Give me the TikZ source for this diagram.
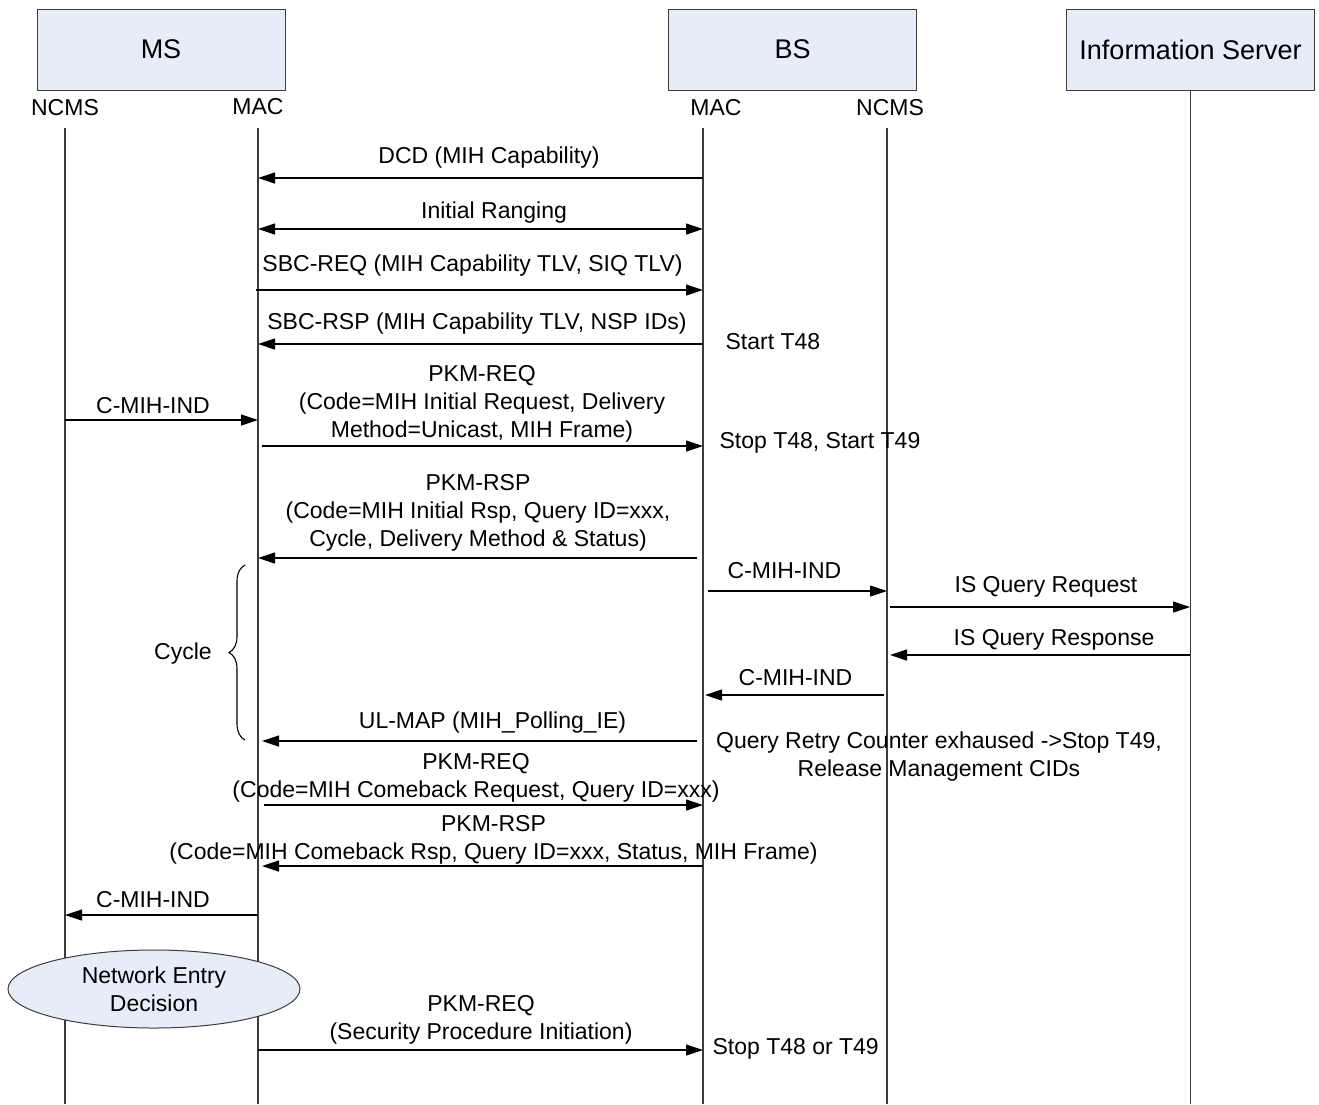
\documentclass[tikz,border=0pt]{standalone}
\usepackage{fontspec}
\setmainfont{Liberation Sans}
\usetikzlibrary{arrows.meta,shapes.geometric,decorations.pathreplacing}

\definecolor{boxfill}{RGB}{230,236,248}
\definecolor{lifegray}{RGB}{60,60,60}
\tikzset{msgtip/.tip={Triangle[length=17pt,width=11pt]}}

\begin{document}
\begin{tikzpicture}[x=1pt,y=-1pt,
  line width=1.2pt,
  entity/.style={draw=lifegray,fill=boxfill,line width=1pt,minimum width=248pt,minimum height=81pt,
    inner sep=0pt,font=\fontsize{27}{32}\selectfont},
  port/.style={inner sep=0pt,font=\fontsize{23}{28}\selectfont},
  msg/.style={inner sep=0pt,align=center,font=\fontsize{23}{28}\selectfont},
  decision/.style={ellipse,draw=lifegray,fill=boxfill,line width=1pt,minimum width=292pt,minimum height=78pt,
    inner sep=0pt,align=center,font=\fontsize{23}{28}\selectfont},
  life/.style={draw=lifegray,line width=1.3pt}]
  \useasboundingbox (0,0) rectangle (1319,1104);

  \node[entity] (ms) at (161,49.5) {MS};
  \node[entity] (bs) at (792.5,49.5) {BS};
  \node[entity] (is) at (1190.5,49.5) {Information Server};

  \node[port] (ncms1) at (65,108) {NCMS};
  \node[port] (mac1) at (258,107) {MAC};
  \node[port] (mac2) at (716,108) {MAC};
  \node[port] (ncms2) at (890,108) {NCMS};

  % lifelines
  \coordinate (l1t) at (65,128);   \coordinate (l1b) at (65,1104);
  \coordinate (l2t) at (258,128);  \coordinate (l2b) at (258,1104);
  \coordinate (l3t) at (703,128);  \coordinate (l3b) at (703,1104);
  \coordinate (l4t) at (887,128);  \coordinate (l4b) at (887,1104);
  \coordinate (l5b) at (1190.5,1104);
  \draw[life] (l1t) -- (l1b);
  \draw[life] (l2t) -- (l2b);
  \draw[life] (l3t) -- (l3b);
  \draw[life] (l4t) -- (l4b);
  \draw[life] (is.south) -- (l5b);

  % message end points
  \coordinate (m1a) at (703,178);  \coordinate (m1b) at (258,178);
  \coordinate (m2a) at (258,229);  \coordinate (m2b) at (703,229);
  \coordinate (m3a) at (256,290);  \coordinate (m3b) at (703,290);
  \coordinate (m4a) at (703,344);  \coordinate (m4b) at (258,344);
  \coordinate (m5a) at (65,420);   \coordinate (m5b) at (258,420);
  \coordinate (m6a) at (262,446);  \coordinate (m6b) at (703,446);
  \coordinate (m7a) at (697,558);  \coordinate (m7b) at (258,558);
  \coordinate (m8a) at (708,591);  \coordinate (m8b) at (887,591);
  \coordinate (m9a) at (890,607);  \coordinate (m9b) at (1190,607);
  \coordinate (m10a) at (1190,655); \coordinate (m10b) at (890,655);
  \coordinate (m11a) at (884,695); \coordinate (m11b) at (705,695);
  \coordinate (m12a) at (697,741); \coordinate (m12b) at (262,741);
  \coordinate (m13a) at (264,805); \coordinate (m13b) at (703,805);
  \coordinate (m14a) at (703,866); \coordinate (m14b) at (262,866);
  \coordinate (m15a) at (258,915); \coordinate (m15b) at (65,915);
  \coordinate (m16a) at (258,1050); \coordinate (m16b) at (703,1050);

  \path[-msgtip]
    (m1a) edge (m1b)
    (m2a) edge [msgtip-msgtip] (m2b)
    (m3a) edge (m3b)
    (m4a) edge (m4b)
    (m5a) edge (m5b)
    (m6a) edge (m6b)
    (m7a) edge (m7b)
    (m8a) edge (m8b)
    (m9a) edge (m9b)
    (m10a) edge (m10b)
    (m11a) edge (m11b)
    (m12a) edge (m12b)
    (m13a) edge (m13b)
    (m14a) edge (m14b)
    (m15a) edge (m15b)
    (m16a) edge (m16b);

  \node[msg] (dcd) at (489,158) {DCD (MIH Capability)};
  \node[msg] (rng) at (494,213) {Initial Ranging};
  \node[msg] (sbcreq) at (472.5,266) {SBC-REQ (MIH Capability TLV, SIQ TLV)};
  \node[msg] (sbcrsp) at (477,324) {SBC-RSP (MIH Capability TLV, NSP IDs)};
  \node[port,anchor=west] (t48) at (725,342) {Start T48};
  \node[msg] (ind1) at (153,406) {C-MIH-IND};
  \node[msg] (pkmreq1) at (482,404) {PKM-REQ\\(Code=MIH Initial Request, Delivery\\Method=Unicast, MIH Frame)};
  \node[port,anchor=west] (t49) at (719,443) {Stop T48, Start T49};
  \node[msg] (pkmrsp1) at (478,513) {PKM-RSP\\(Code=MIH Initial Rsp, Query ID=xxx,\\Cycle, Delivery Method \& Status)};
  \node[msg] (ind2) at (784.5,571) {C-MIH-IND};
  \node[msg] (isreq) at (1046,587) {IS Query Request};
  \node[msg] (isrsp) at (1054,640) {IS Query Response};
  \node[msg] (ind3) at (795.5,678) {C-MIH-IND};
  \node[msg] (ulmap) at (492.5,723) {UL-MAP (MIH\_Polling\_IE)};
  \node[msg] (retry) at (939,757) {Query Retry Counter exhaused ->Stop T49,\\Release Management CIDs};
  \node[msg] (pkmreq2) at (476,778) {PKM-REQ\\(Code=MIH Comeback Request, Query ID=xxx)};
  \node[msg] (pkmrsp2) at (493.5,840) {PKM-RSP\\(Code=MIH Comeback Rsp, Query ID=xxx, Status, MIH Frame)};
  \node[msg] (ind4) at (153,900) {C-MIH-IND};
  \node[msg] (pkmreq3) at (481,1020) {PKM-REQ\\(Security Procedure Initiation)};
  \node[port,anchor=west] (stop) at (712,1049) {Stop T48 or T49};

  % cycle brace
  \coordinate (brbot) at (245,740);
  \coordinate (brtop) at (245,565);
  \draw[line width=1.1pt,decorate,decoration={brace,amplitude=16pt}] (brbot) -- (brtop);
  \node[msg] (cycle) at (183,654) {Cycle};

  \node[decision] (ned) at (154,989) {Network Entry\\Decision};
\end{tikzpicture}
\end{document}
